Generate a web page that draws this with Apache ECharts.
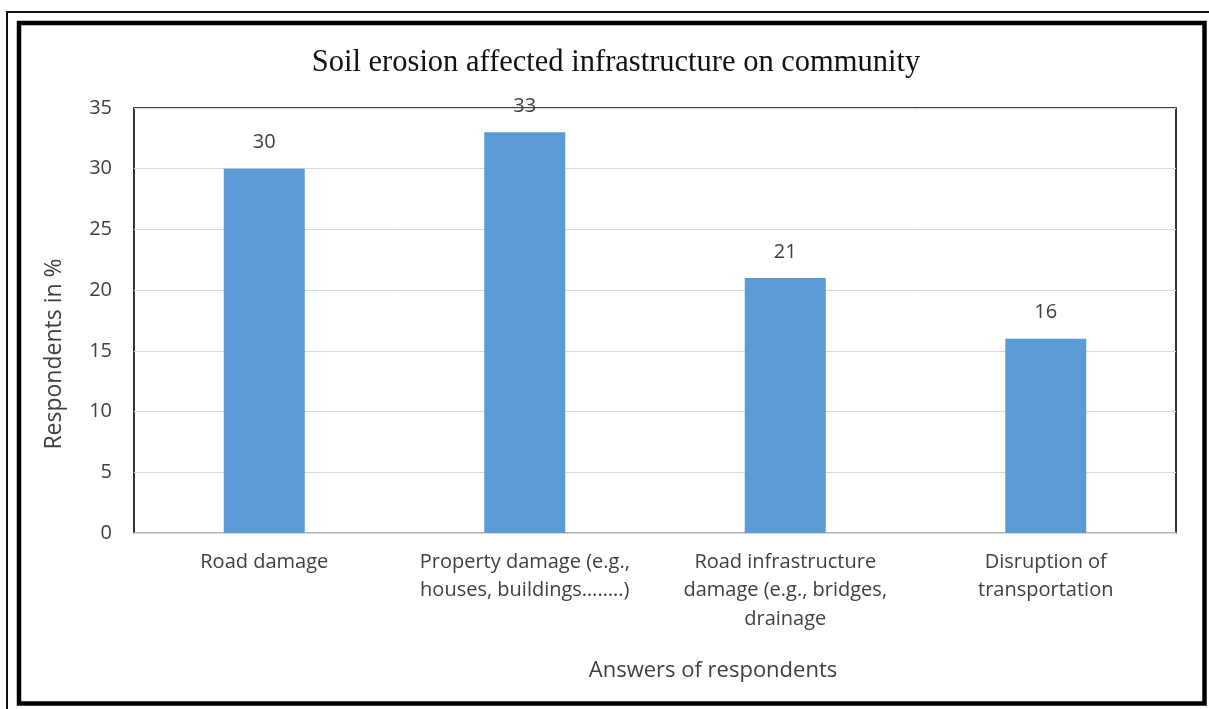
<!DOCTYPE html>
<html>
<head>
<meta charset="utf-8">
<script src="https://cdn.jsdelivr.net/npm/echarts@6/dist/echarts.min.js"></script>
<style>
  html, body { margin: 0; padding: 0; background: #fff; }
  #chart { width: 1209px; height: 709px; }
</style>
</head>
<body>
<div id="chart"></div>
<script>
// Survey answers: share of respondents per type of infrastructure damage
const categories = [
  'Road damage',
  'Property damage (e.g.,\nhouses, buildings……..)',
  'Road infrastructure\ndamage (e.g., bridges,\ndrainage',
  'Disruption of\ntransportation'
];
const values = [30, 33, 21, 16];
const yTicks = { min: 0, max: 35, interval: 5 };

const chartTitle = 'Soil erosion affected infrastructure on community';
const yAxisTitle = 'Respondents in %';
const xAxisTitle = 'Answers of respondents';

const labelFont = 'Open Sans';
const labelColor = '#404040';

const chart = echarts.init(document.getElementById('chart'), null, { renderer: 'canvas' });

chart.setOption({
  animation: false,
  backgroundColor: '#ffffff',
  title: {
    text: chartTitle,
    left: 611,
    top: 42,
    textAlign: 'center',
    textStyle: {
      fontFamily: 'Liberation Serif',
      fontWeight: 'normal',
      fontSize: 30.5,
      color: '#111111'
    }
  },
  grid: {
    left: 134,
    right: 33,
    top: 108,
    bottom: 176,
    show: true,
    borderColor: '#000000',
    borderWidth: 1.6,
    containLabel: false
  },
  xAxis: {
    type: 'category',
    data: categories,
    axisLine: { show: true, lineStyle: { color: '#d9d9d9', width: 1.6 } },
    axisTick: { show: false },
    axisLabel: {
      interval: 0,
      margin: 15,
      fontFamily: labelFont,
      fontSize: 20,
      lineHeight: 28.5,
      color: labelColor
    }
  },
  yAxis: {
    type: 'value',
    min: yTicks.min,
    max: yTicks.max,
    interval: yTicks.interval,
    axisLine: { show: false },
    axisTick: { show: false },
    splitLine: { show: true, lineStyle: { color: '#d9d9d9', width: 1 } },
    axisLabel: {
      margin: 22,
      fontFamily: labelFont,
      fontSize: 20,
      color: labelColor
    }
  },
  series: [{
    type: 'bar',
    data: values,
    barWidth: 81,
    itemStyle: { color: '#5b9bd5' },
    label: {
      show: true,
      position: 'top',
      distance: 16,
      fontFamily: labelFont,
      fontSize: 20,
      color: labelColor
    }
  }],
  graphic: [
    {
      // vertical axis title
      type: 'text',
      x: 54,
      y: 354,
      rotation: Math.PI / 2,
      style: {
        text: yAxisTitle,
        align: 'center',
        verticalAlign: 'middle',
        fontFamily: labelFont,
        fontSize: 23,
        fill: labelColor
      }
    },
    {
      // horizontal axis title
      type: 'text',
      x: 713,
      y: 671,
      style: {
        text: xAxisTitle,
        align: 'center',
        verticalAlign: 'middle',
        fontFamily: labelFont,
        fontSize: 22,
        fill: labelColor
      }
    },
    {
      type: 'rect',
      silent: true,
      shape: { x: 7, y: 12, width: 1300, height: 800 },
      style: { fill: 'none', stroke: '#111111', lineWidth: 2 }
    },
    {
      type: 'rect',
      silent: true,
      shape: { x: 19, y: 23, width: 1185.5, height: 680.5 },
      style: { fill: 'none', stroke: '#000000', lineWidth: 4.5 }
    }
  ]
});
</script>
</body>
</html>
